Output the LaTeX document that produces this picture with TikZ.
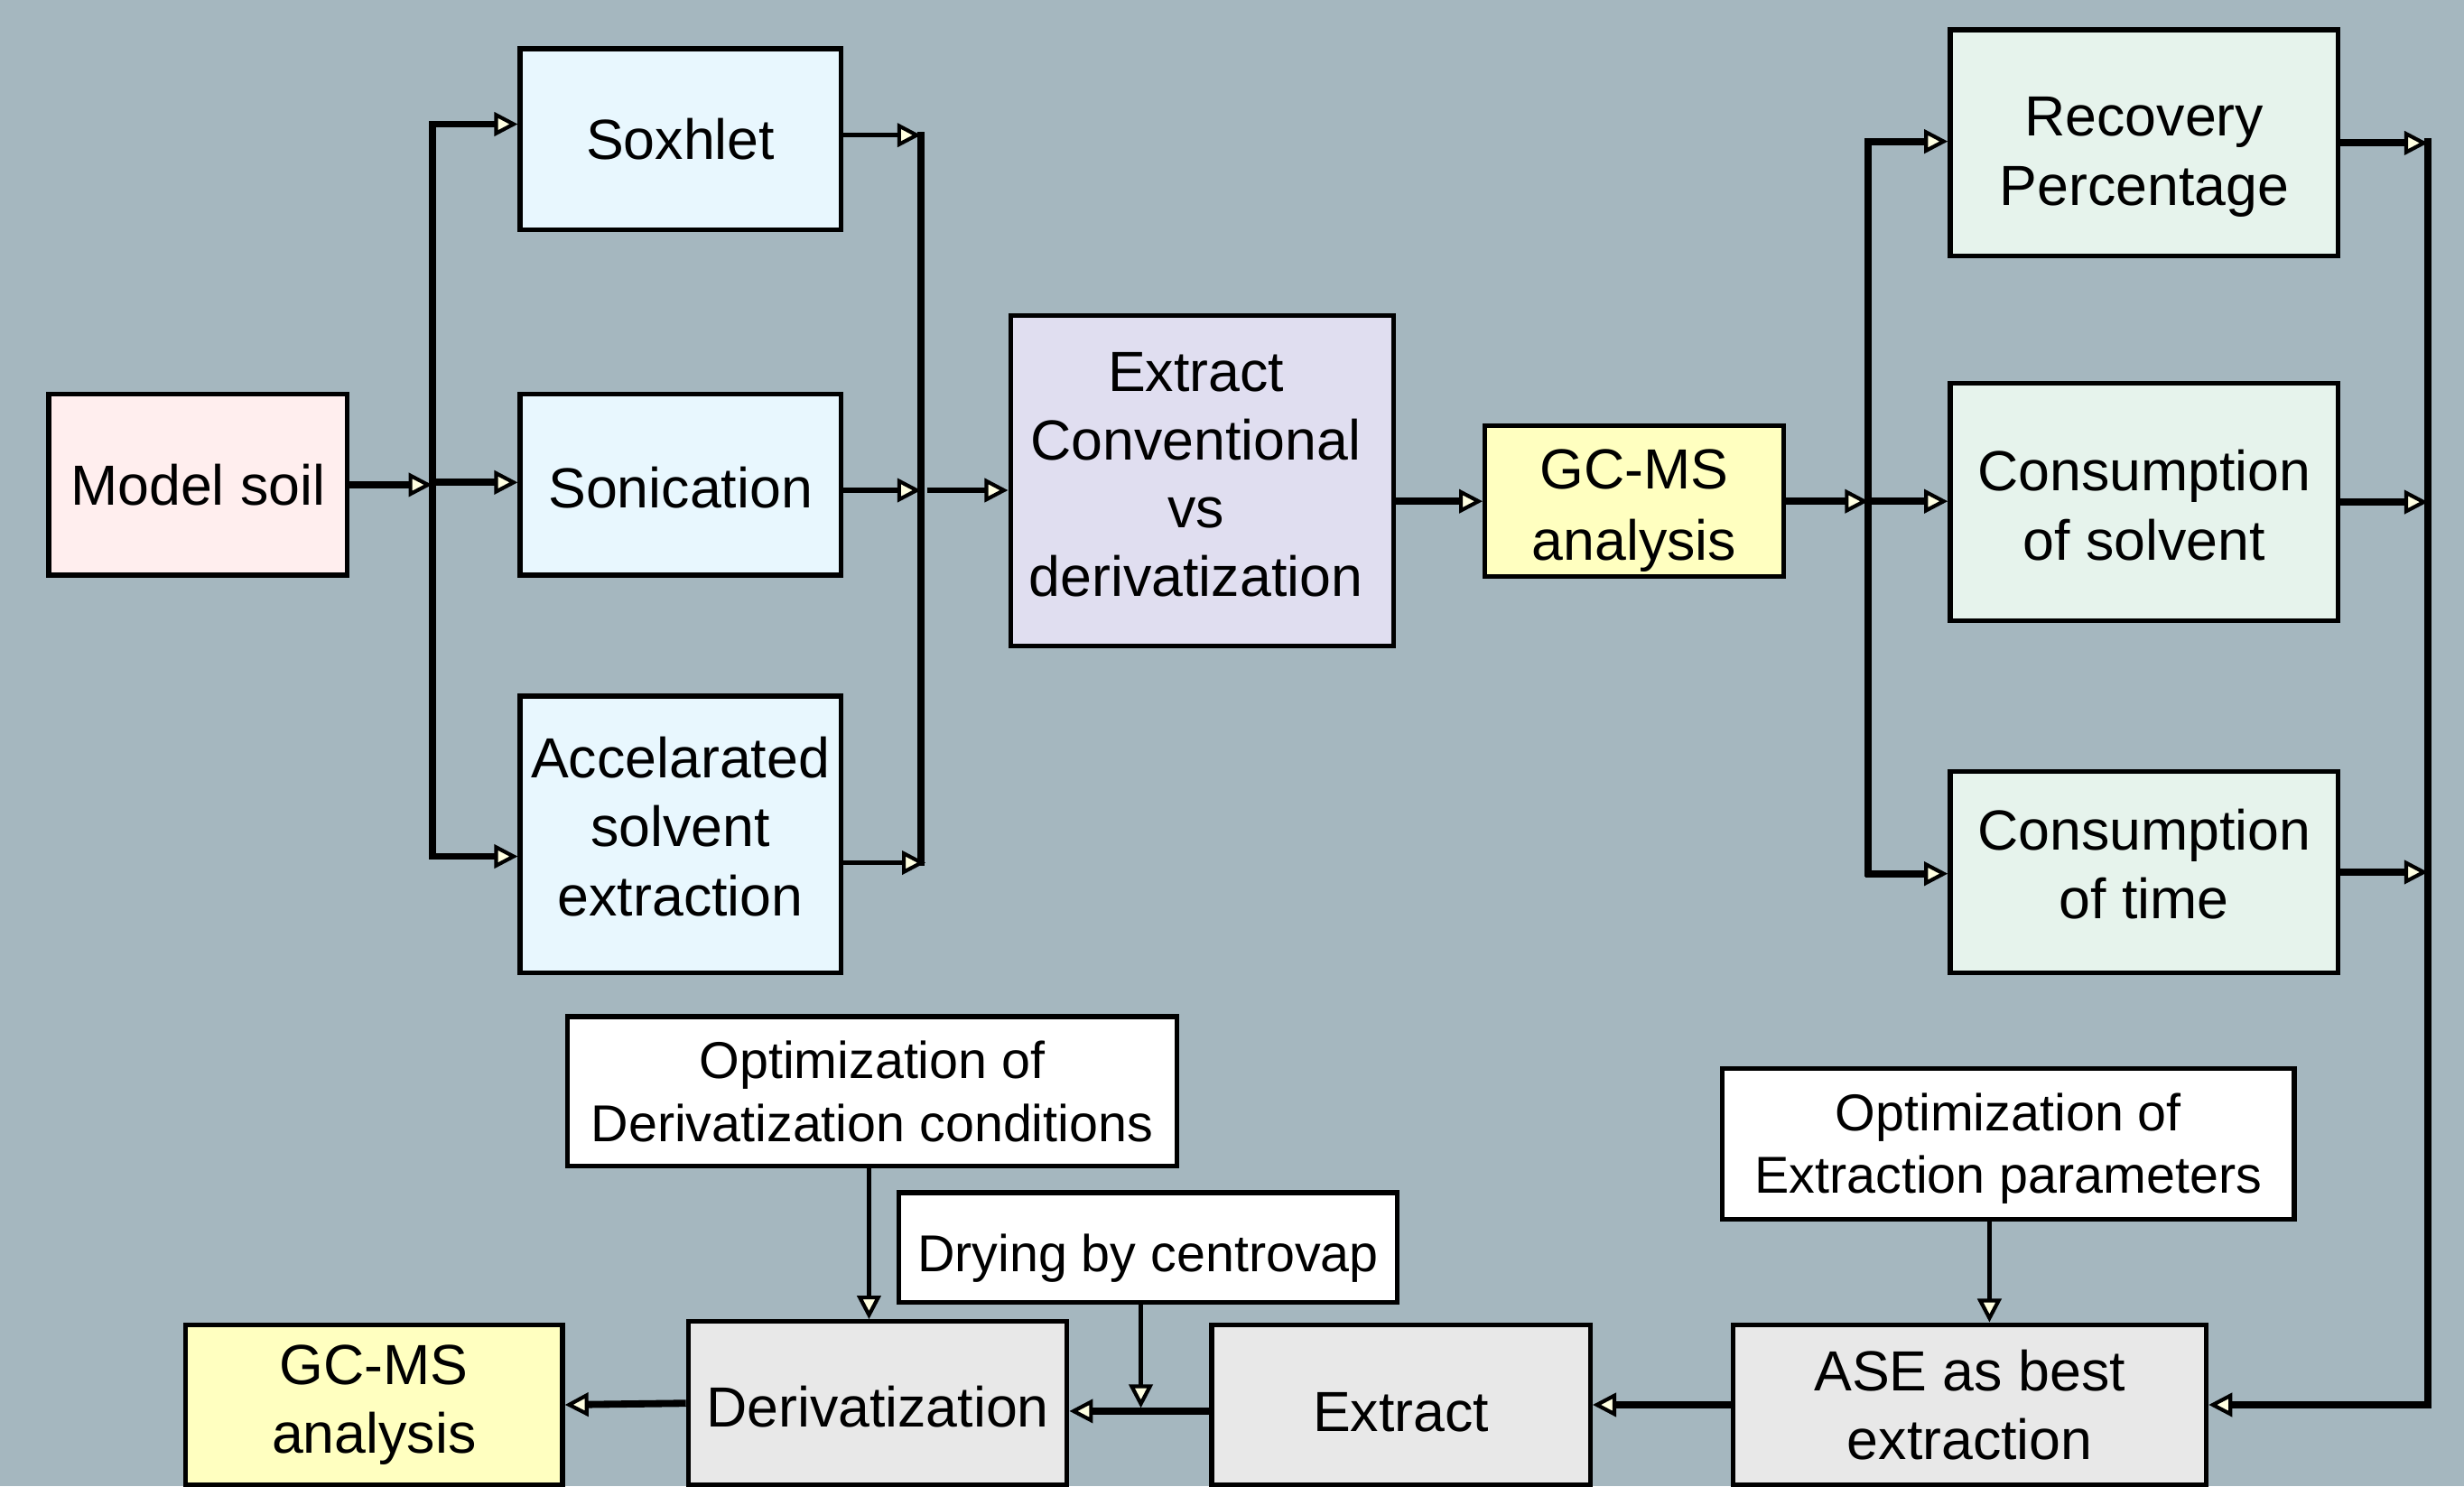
\documentclass[tikz,border=0pt]{standalone}
\usepackage{fontspec}
\setmainfont{Liberation Sans}
\usetikzlibrary{arrows.meta,calc}
\definecolor{bg}{RGB}{165,183,191}
\definecolor{pinkf}{RGB}{255,238,238}
\definecolor{cyanf}{RGB}{232,247,254}
\definecolor{lavf}{RGB}{224,222,240}
\definecolor{yelf}{RGB}{255,255,192}
\definecolor{mintf}{RGB}{230,243,236}
\definecolor{grayf}{RGB}{232,232,232}
\definecolor{tipf}{RGB}{255,255,225}
\begin{document}
\begin{tikzpicture}[x=1pt,y=-1pt,
  box/.style={draw=black, line width=3pt, inner sep=0pt},
  wbox/.style={box, fill=white},
  lab/.style={align=center, inner sep=0pt, font=\fontsize{36}{44}\selectfont},
  wlab/.style={align=center, inner sep=0pt, font=\fontsize{33}{40}\selectfont},
  tipA/.style={-{Triangle[length=15pt,width=15pt,line width=2.4pt,fill=tipf]}},
  conn/.style={line width=4.5pt, tipA},
  thinconn/.style={line width=3.2pt, tipA},
  bus/.style={line width=4.5pt},
  ]
\fill[bg] (0,0) rectangle (1568,946);
\useasboundingbox (0,0) rectangle (1568,946);

% nodes
\node[box, fill=pinkf, minimum width=190pt, minimum height=115pt,
  label={[lab]center:Model soil}] (soil) at (126,308.5) {};
\node[box, fill=cyanf, minimum width=204pt, minimum height=115pt,
  label={[lab]center:Soxhlet}] (sox) at (433,88.5) {};
\node[box, fill=cyanf, minimum width=204pt, minimum height=115pt,
  label={[lab,yshift=-2pt]center:Sonication}] (son) at (433,308.5) {};
\node[box, fill=cyanf, minimum width=204pt, minimum height=176pt,
  label={[lab,yshift=5pt]center:{Accelarated\\solvent\\extraction}}] (acc) at (433,531) {};
\node[box, fill=lavf, minimum width=244pt, minimum height=210pt,
  label={[lab,yshift=4pt,xshift=-4pt,font=\fontsize{36}{43.5}\selectfont]center:{Extract\\Conventional\\vs\\derivatization}}] (ext) at (765,306) {};
\node[box, fill=yelf, minimum width=190pt, minimum height=96pt,
  label={[lab,yshift=-6pt,font=\fontsize{36}{45}\selectfont]center:{GC-MS\\analysis}}] (gc1) at (1040,319) {};
\node[box, fill=mintf, minimum width=247pt, minimum height=144pt,
  label={[lab,yshift=-9pt]center:{Recovery\\Percentage}}] (rec) at (1364.5,91) {};
\node[box, fill=mintf, minimum width=247pt, minimum height=151pt,
  label={[lab,yshift=-2pt]center:{Consumption\\of solvent}}] (cs) at (1364.5,319.5) {};
\node[box, fill=mintf, minimum width=247pt, minimum height=128pt,
  label={[lab,yshift=5pt]center:{Consumption\\of time}}] (ct) at (1364.5,555) {};
\node[wbox, minimum width=388pt, minimum height=95pt,
  label={[wlab]center:{Optimization of\\Derivatization conditions}}] (od) at (555,694.5) {};
\node[wbox, minimum width=317pt, minimum height=70pt,
  label={[wlab,yshift=-7pt]center:Drying by centrovap}] (dry) at (730.5,794) {};
\node[wbox, minimum width=364pt, minimum height=96pt,
  label={[wlab,yshift=-3pt]center:{Optimization of\\Extraction parameters}}] (oe) at (1278,728) {};
\node[box, fill=yelf, minimum width=240pt, minimum height=102pt,
  label={[lab]center:{GC-MS\\analysis}}] (gc2) at (238,894) {};
\node[box, fill=grayf, minimum width=241pt, minimum height=104pt,
  label={[lab,yshift=-2pt]center:Derivatization}] (deriv) at (558.5,893) {};
\node[box, fill=grayf, minimum width=241pt, minimum height=102pt,
  label={[lab,yshift=-5pt]center:Extract}] (extr) at (891.5,894) {};
\node[box, fill=grayf, minimum width=301pt, minimum height=102pt,
  label={[lab]center:{ASE as best\\extraction}}] (ase) at (1253.5,894) {};

% bus coordinates
\coordinate (b1top) at (275,79);
\coordinate (b1mid) at (275,307);
\coordinate (b1bot) at (275,545);
\coordinate (b2top) at (586,84);
\coordinate (b2mid) at (586,312);
\coordinate (b2bot) at (586,549);
\coordinate (b2end) at (586,551);
\coordinate (b3top) at (1189,90);
\coordinate (b3mid) at (1189,319);
\coordinate (b3bot) at (1189,556);
\coordinate (b4top) at (1545,90);
\coordinate (b4bot) at (1545,894);

% first fan-out
\draw[conn] (soil.east) -- (soil.east -| b1mid);
\draw[bus] ([yshift=2pt]b1top) -- ([yshift=-2pt]b1bot);
\draw[conn] ([xshift=-2pt]b1top) -- (b1top -| sox.west);
\draw[conn] (b1mid) -- (b1mid -| son.west);
\draw[conn] ([xshift=-2pt]b1bot) -- (b1bot -| acc.west);

% first fan-in
\draw[thinconn] (sox.east |- 0,86) -- (b2top |- 0,86);
\draw[thinconn] (son.east |- b2mid) -- (b2mid);
\draw[thinconn] (acc.east |- b2bot) -- ([xshift=3pt]b2bot);
\draw[line width=5pt] (b2top) -- (b2end);
\draw[thinconn] ([xshift=4pt]b2mid) -- (b2mid -| ext.west);

% to GC-MS
\draw[conn] (ext.east |- gc1.west) -- (gc1.west);
\draw[conn] (gc1.east) -- (gc1.east -| b3mid);

% second fan-out
\draw[bus] ([yshift=2pt]b3top) -- ([yshift=-2pt]b3bot);
\draw[conn] ([xshift=-2pt]b3top) -- (b3top -| rec.west);
\draw[conn] (b3mid) -- (b3mid -| cs.west);
\draw[conn] ([xshift=-2pt]b3bot) -- (b3bot -| ct.west);

% second fan-in
\draw[conn] (rec.east) -- (rec.east -| b4top);
\draw[conn] (cs.east) -- (cs.east -| b4top);
\draw[conn] (ct.east) -- (ct.east -| b4top);
\draw[bus, tipA] ([yshift=2pt]b4top) -- (b4bot) -- (ase.east);

% bottom chain
\draw[conn] (ase.west) -- (extr.east);
\draw[conn] (extr.west |- 0,898) -- (deriv.east |- 0,898);
\draw[thinconn] (dry.south -| 726,0) -- (726,896);
\draw[thinconn] (od.south -| 553,0) -- (deriv.north -| 553,0);
\draw[thinconn] (oe.south -| 1266,0) -- (ase.north -| 1266,0);
\draw[conn] (deriv.west) -- (gc2.east);
\end{tikzpicture}
\end{document}
